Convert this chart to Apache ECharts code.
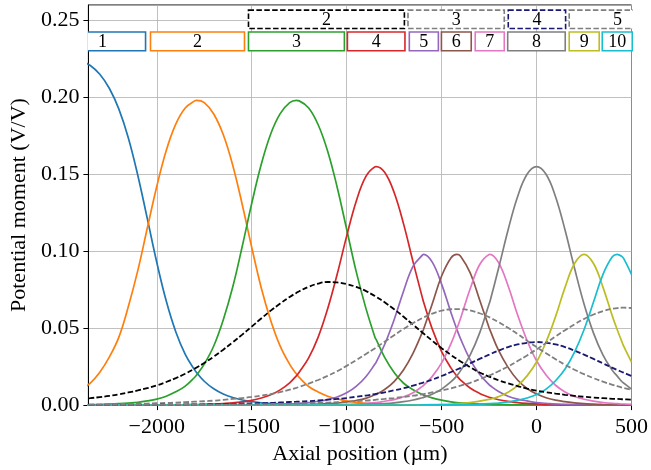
<!DOCTYPE html>
<html>
<head>
    <meta charset="utf-8">
    <title>Potential moment</title>
    <script src="https://cdn.jsdelivr.net/npm/echarts@6/dist/echarts.min.js"></script>
    <style type="text/css">
        *{margin:0;padding:0;}
        body{background:#fff;overflow:hidden;}
        #main{width:651px;height:470px;}
    </style>
</head>
<body>
<div id="main"></div>
<script type="text/javascript">
    // axial positions (um) shared by every curve
    var xs = [-2400,-2350,-2300,-2250,-2200,-2150,-2100,-2050,-2000,-1950,-1900,-1850,-1800,-1790,
        -1750,-1700,-1650,-1600,-1550,-1500,-1450,-1400,-1350,-1300,-1265,
        -1250,-1200,-1150,-1100,-1050,-1000,-950,-900,-850,-845,
        -800,-750,-700,-650,-600,-595,
        -550,-500,-450,-420,
        -400,-350,-300,-250,-245,
        -200,-150,-100,-50,0,50,100,150,200,250,300,350,400,425,
        450,460,500];

    // solid electrodes 1..10
    var e1 = [.2239,.2207,.2150,.2059,.1925,.1738,.1494,.1213,.0928,.0676,.0477,.0330,.0227,.0211,
        .0155,.0106,.0072,.0049,.0033,.0023,.0015,.0011,.0008,.0005,.0004,
        .0004,.0002,.0002,.0001,.0001,0,0,0,0,0,
        0,0,0,0,0,0,
        0,0,0,0,
        0,0,0,0,0,
        0,0,0,0,0,0,0,0,0,0,0,0,0,0,
        0,0,0];
    var e2 = [.0100,.0143,.0214,.0312,.0440,.0639,.0874,.1149,.1421,.1655,.1826,.1931,.1977,.1980,
        .1966,.1892,.1758,.1559,.1304,.1026,.0763,.0550,.0383,.0265,.0203,
        .0180,.0121,.0085,.0058,.0040,.0027,.0018,.0012,.0009,.0008,
        .0006,.0004,.0002,.0002,.0001,0,
        0,0,0,0,
        0,0,0,0,0,
        0,0,0,0,0,0,0,0,0,0,0,0,0,0,
        0,0,0];
    var e3 = [.0002,.0002,.0004,.0006,.0009,.0013,.0018,.0027,.0039,.0058,.0086,.0123,.0181,.0195,
        .0266,.0384,.0553,.0767,.1031,.1310,.1563,.1762,.1894,.1965,.1980,
        .1977,.1931,.1822,.1650,.1416,.1143,.0869,.0635,.0437,.0427,
        .0310,.0212,.0142,.0100,.0068,.0065,
        .0047,.0032,.0021,.0016,
        .0015,.0010,.0007,.0005,.0004,
        .0003,.0002,.0002,.0001,.0001,0,0,0,0,0,0,0,0,0,
        0,0,0];
    var e4 = [0,0,0,0,0,0,0,0,.0001,.0001,.0001,.0002,.0003,.0003,
        .0005,.0007,.0010,.0014,.0021,.0031,.0046,.0067,.0099,.0145,.0190,
        .0214,.0307,.0442,.0626,.0850,.1098,.1323,.1483,.1549,.1550,
        .1513,.1382,.1176,.0929,.0692,.0670,
        .0497,.0348,.0240,.0190,
        .0163,.0111,.0076,.0051,.0049,
        .0035,.0024,.0016,.0011,.0008,.0005,.0004,.0002,.0002,.0001,.0001,0,0,0,
        0,0,0];
    var e5 = [0,0,0,0,0,0,0,0,0,0,0,0,0,0,
        0,0,0,0,.0001,.0002,.0002,.0003,.0005,.0007,.0010,
        .0011,.0016,.0025,.0036,.0053,.0080,.0122,.0183,.0268,.0278,
        .0394,.0555,.0742,.0903,.0976,.0980,
        .0931,.0786,.0598,.0493,
        .0430,.0296,.0201,.0133,.0127,
        .0088,.0058,.0039,.0027,.0017,.0012,.0007,.0005,.0003,.0003,.0002,.0001,.0001,.0001,
        .0001,.0001,0];
    var e6 = [0,0,0,0,0,0,0,0,0,0,0,0,0,0,
        0,0,0,0,0,0,0,.0001,.0002,.0002,.0003,
        .0003,.0004,.0006,.0009,.0013,.0020,.0030,.0044,.0067,.0069,
        .0101,.0153,.0230,.0338,.0477,.0493,
        .0655,.0839,.0958,.0980,
        .0968,.0861,.0685,.0503,.0487,
        .0355,.0245,.0163,.0108,.0072,.0048,.0032,.0022,.0014,.0010,.0006,.0004,.0003,.0003,
        .0002,.0002,.0002];
    var e7 = [0,0,0,0,0,0,0,0,0,0,0,0,0,0,
        0,0,0,0,0,0,0,0,0,0,.0001,
        .0001,.0001,.0002,.0002,.0003,.0005,.0007,.0011,.0016,.0016,
        .0025,.0036,.0054,.0081,.0123,.0128,
        .0185,.0274,.0401,.0496,
        .0565,.0754,.0912,.0979,.0980,
        .0926,.0776,.0587,.0420,.0288,.0195,.0129,.0085,.0056,.0038,.0026,.0017,.0011,.0010,
        .0007,.0007,.0005];
    var e8 = [0,0,0,0,0,0,0,0,0,0,0,0,0,0,
        0,0,0,0,0,0,0,0,0,0,0,
        0,0,0,0,.0001,.0002,.0003,.0005,.0007,.0007,
        .0010,.0015,.0022,.0033,.0048,.0050,
        .0071,.0104,.0152,.0190,
        .0224,.0325,.0468,.0657,.0675,
        .0889,.1138,.1354,.1500,.1550,.1500,.1354,.1138,.0889,.0657,.0468,.0325,.0224,.0188,
        .0152,.0142,.0104];
    var e9 = [0,0,0,0,0,0,0,0,0,0,0,0,0,0,
        0,0,0,0,0,0,0,0,0,0,0,
        0,0,0,0,0,0,0,0,0,0,
        .0001,.0001,.0001,.0002,.0002,.0002,
        .0003,.0005,.0007,.0010,
        .0011,.0016,.0026,.0037,.0038,
        .0055,.0083,.0126,.0190,.0280,.0410,.0575,.0765,.0920,.0980,.0920,.0765,.0575,.0490,
        .0410,.0380,.0280];
    var e10 = [0,0,0,0,0,0,0,0,0,0,0,0,0,0,
        0,0,0,0,0,0,0,0,0,0,0,
        0,0,0,0,0,0,0,0,0,0,
        0,0,0,0,.0001,.0001,
        .0001,.0001,.0002,.0003,
        .0003,.0004,.0006,.0009,.0010,
        .0013,.0021,.0031,.0046,.0069,.0104,.0158,.0235,.0345,.0490,.0670,.0850,.0965,.0980,
        .0965,.0950,.0850];

    // dashed (combined) electrodes 2..5
    var d2 = [.0040,.0045,.0052,.0060,.0070,.0082,.0095,.0110,.0128,.0150,.0175,.0204,.0237,.0244,
        .0274,.0315,.0360,.0408,.0458,.0510,.0563,.0614,.0660,.0703,.0729,
        .0740,.0769,.0790,.0800,.0797,.0786,.0768,.0742,.0708,.0704,
        .0668,.0623,.0574,.0522,.0470,.0465,
        .0419,.0370,.0325,.0300,
        .0284,.0247,.0212,.0185,.0183,
        .0161,.0141,.0124,.0107,.0094,.0084,.0075,.0067,.0060,.0054,.0049,.0045,.0041,.0040,
        .0038,.0037,.0036];
    var d3 = [.0004,.0004,.0005,.0006,.0007,.0008,.0009,.0010,.0012,.0014,.0016,.0019,.0022,.0023,
        .0025,.0029,.0034,.0040,.0046,.0053,.0062,.0072,.0084,.0100,.0112,
        .0118,.0140,.0163,.0190,.0220,.0255,.0292,.0331,.0370,.0374,
        .0412,.0454,.0495,.0533,.0567,.0570,
        .0594,.0614,.0623,.0624,
        .0624,.0615,.0597,.0572,.0569,
        .0539,.0502,.0462,.0419,.0377,.0337,.0298,.0262,.0230,.0201,.0175,.0152,.0132,.0123,
        .0114,.0111,.0099];
    var d4 = [.0001,.0001,.0001,.0001,.0001,.0002,.0002,.0002,.0002,.0003,.0003,.0004,.0004,.0004,
        .0005,.0006,.0007,.0008,.0010,.0011,.0013,.0014,.0017,.0020,.0022,
        .0023,.0026,.0030,.0035,.0040,.0046,.0054,.0062,.0072,.0073,
        .0083,.0096,.0110,.0127,.0145,.0147,
        .0165,.0189,.0215,.0231,
        .0242,.0271,.0300,.0328,.0331,
        .0354,.0377,.0394,.0405,.0410,.0405,.0394,.0377,.0354,.0328,.0300,.0271,.0242,.0228,
        .0215,.0210,.0189];
    var d5 = [.0001,.0001,.0001,.0001,.0001,.0001,.0001,.0001,.0001,.0001,.0002,.0002,.0002,.0002,
        .0002,.0003,.0003,.0004,.0004,.0005,.0006,.0007,.0008,.0009,.0010,
        .0010,.0012,.0014,.0016,.0019,.0022,.0026,.0029,.0034,.0035,
        .0040,.0046,.0053,.0061,.0071,.0072,
        .0082,.0095,.0109,.0120,
        .0127,.0145,.0168,.0192,.0194,
        .0220,.0251,.0286,.0323,.0362,.0404,.0446,.0487,.0525,.0560,.0589,.0611,.0627,.0630,
        .0633,.0633,.0631];

    // electrode boxes along the top (um)
    var boxStart = [-2513,-2033,-1517,-996,-670,-501,-323,-152,172,346];
    var boxEnd   = [-2059,-1538,-1012,-693,-517,-344,-170,151,330,504];
    var boxNames = ['1','2','3','4','5','6','7','8','9','10'];
    var dboxStart = [-1517,-677,-149,172];
    var dboxEnd   = [-696,-170,153,680];
    var dboxNames = ['2','3','4','5'];

    var solidColors = ['#1f77b4','#ff7f0e','#2ca02c','#d62728','#9467bd','#8c564b','#e377c2','#7f7f7f','#bcbd22','#17becf'];
    var dashColors = ['#000000','#7f7f7f','#191970','#7f7f7f'];
    var dashPattern = [5.5, 2.4];
    var FONT = '"Liberation Serif", "Times New Roman", serif';

    function pairs(ys) {
        return xs.map(function (x, i) { return [x, ys[i]]; });
    }
    function minus(v) {
        return String(v).replace('-', '\u2212');
    }

    var solid = [e1,e2,e3,e4,e5,e6,e7,e8,e9,e10];
    var dashed = [d2,d3,d4,d5];
    var series = [];
    solid.forEach(function (ys, i) {
        series.push({
            type: 'line', data: pairs(ys), smooth: 0.4, showSymbol: false, silent: true,
            lineStyle: {color: solidColors[i], width: 1.7}, z: 2
        });
    });
    dashed.forEach(function (ys, i) {
        series.push({
            type: 'line', data: pairs(ys), smooth: 0.4, showSymbol: false, silent: true,
            lineStyle: {color: dashColors[i], width: 1.8, type: dashPattern}, z: 2
        });
    });

    // boxes: [start, end, yLow, yHigh, name index, row]
    var boxData = [];
    boxStart.forEach(function (s, i) { boxData.push([s, boxEnd[i], 0.2303, 0.2425, i, 0]); });
    dboxStart.forEach(function (s, i) { boxData.push([s, dboxEnd[i], 0.2447, 0.2567, i, 1]); });

    series.push({
        type: 'custom',
        clip: true,
        silent: true,
        z: 4,
        data: boxData,
        renderItem: function (params, api) {
            var p0 = api.coord([api.value(0), api.value(3)]);
            var p1 = api.coord([api.value(1), api.value(2)]);
            var idx = api.value(4), row = api.value(5);
            var color = row === 0 ? solidColors[idx] : dashColors[idx];
            var name = row === 0 ? boxNames[idx] : dboxNames[idx];
            return {
                type: 'group',
                children: [{
                    type: 'rect',
                    shape: {x: p0[0], y: p0[1], width: p1[0] - p0[0], height: p1[1] - p0[1]},
                    style: {fill: '#fff', stroke: color, lineWidth: 1.6, lineDash: row === 0 ? null : dashPattern}
                }, {
                    type: 'text',
                    style: {
                        text: name, x: (p0[0] + p1[0]) / 2, y: (p0[1] + p1[1]) / 2 + 1,
                        align: 'center', verticalAlign: 'middle',
                        font: '18px ' + FONT, fill: '#000'
                    }
                }]
            };
        }
    });

    var myChart = echarts.init(document.getElementById('main'));
    var option = {
        animation: false,
        grid: {
            left: 88, right: 19, top: 5, bottom: 60,
            show: true, borderColor: '#000', borderWidth: 1
        },
        xAxis: {
            type: 'value',
            min: -2360, max: 500,
            name: 'Axial position (\u00b5m)',
            nameLocation: 'middle',
            nameGap: 37,
            nameTextStyle: {fontFamily: FONT, fontSize: 22, color: '#000'},
            axisLine: {onZero: false, lineStyle: {color: '#000', width: 1}},
            axisTick: {inside: false, length: 5, lineStyle: {color: '#000'}},
            axisLabel: {
                showMinLabel: false, margin: 11,
                fontFamily: FONT, fontSize: 22, color: '#000',
                formatter: function (v) { return minus(v); }
            },
            splitLine: {show: true, lineStyle: {color: '#b0b0b0', width: 0.8}}
        },
        yAxis: {
            type: 'value',
            min: 0, max: 0.26, interval: 0.05,
            name: 'Potential moment (V/V)',
            nameLocation: 'middle',
            nameGap: 43,
            nameTextStyle: {fontFamily: FONT, fontSize: 22, color: '#000'},
            axisLine: {show: true, onZero: false, lineStyle: {color: '#000', width: 1}},
            axisTick: {show: true, inside: false, length: 5, lineStyle: {color: '#000'}},
            axisLabel: {
                showMaxLabel: false, margin: 9,
                fontFamily: FONT, fontSize: 22, color: '#000',
                formatter: function (v) { return v.toFixed(2); }
            },
            splitLine: {show: true, lineStyle: {color: '#b0b0b0', width: 0.8}}
        },
        series: series
    };
    myChart.setOption(option);
</script>
</body>
</html>
